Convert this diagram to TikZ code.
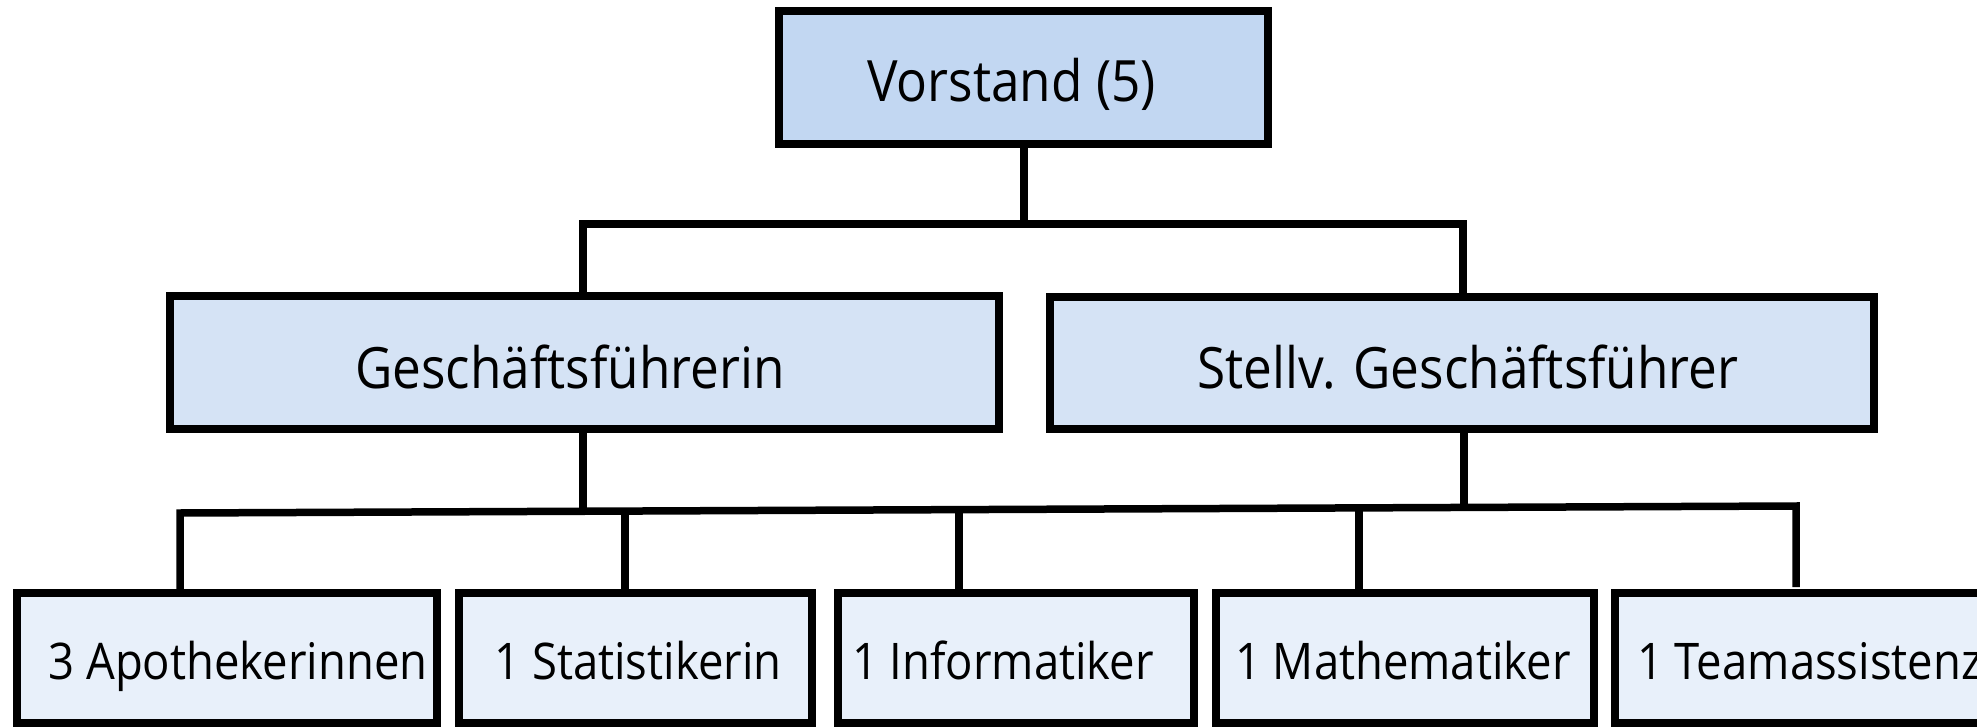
\documentclass[tikz,border=0pt]{standalone}
\usepackage{fontspec}
\setmainfont[FakeStretch=0.9]{Open Sans}
\usetikzlibrary{calc}
\definecolor{topfill}{RGB}{194,215,242}
\definecolor{midfill}{RGB}{213,227,245}
\definecolor{botfill}{RGB}{232,240,250}
\tikzset{
  box/.style={draw=black, line width=8pt, inner sep=0pt, outer sep=0pt, rectangle},
  conn/.style={draw=black, line width=7.5pt, line join=miter},
  bigtext/.style={anchor=base, inner sep=0pt, font=\fontsize{57}{62}\selectfont},
  smalltext/.style={anchor=base, inner sep=0pt, font=\fontsize{50.5}{55}\selectfont},
}
\begin{document}
\begin{tikzpicture}[x=1pt,y=-1pt]
\useasboundingbox (0,0) rectangle (1977,727);
\clip (0,0) rectangle (1977,727);
\fill[white] (0,0) rectangle (1977,727);
% boxes
\node[box, fill=topfill, minimum width=489pt, minimum height=133pt] (vorstand) at (1023.5,77.5) {};
\node[box, fill=midfill, minimum width=829pt, minimum height=133pt] (gf) at (584.5,362.5) {};
\node[box, fill=midfill, minimum width=824pt, minimum height=132pt] (st) at (1462,363) {};
\node[box, fill=botfill, minimum width=420pt, minimum height=130pt] (b1) at (227,658) {};
\node[box, fill=botfill, minimum width=353pt, minimum height=130pt] (b2) at (635.5,658) {};
\node[box, fill=botfill, minimum width=356pt, minimum height=130pt] (b3) at (1016,658) {};
\node[box, fill=botfill, minimum width=378pt, minimum height=130pt] (b4) at (1405,658) {};
\node[box, fill=botfill, minimum width=485pt, minimum height=130pt] (b5) at (1857.5,658) {};
% texts
\node[bigtext] (tv) at (1011.5,102) {Vorstand (5)};
\node[bigtext] (tgf) at (570,388) {Geschäftsführerin};
\node[bigtext] (tst) at (1468,388) {Stellv. Geschäftsführer};
\node[smalltext] (t1) at (238,679) {3 Apothekerinnen};
\node[smalltext] (t2) at (638,679) {1 Statistikerin};
\node[smalltext] (t3) at (1003,679) {1 Informatiker};
\node[smalltext] (t4) at (1403,679) {1 Mathematiker};
\node[smalltext, anchor=base west] (t5) at (1637,679) {1 Teamassistenz};
% upper connectors
\coordinate (busA) at (1024,224);
\coordinate (aL) at (583,224);
\coordinate (aR) at (1463,224);
\draw[conn] (vorstand.south -| busA) -- (busA);
\draw[conn] (aL |- gf.north) -- (aL) -- (aR) -- (aR |- st.north);
% lower bus (slightly slanted)
\coordinate (busL) at (180,513);
\coordinate (busR) at (1796,506);
\coordinate (pgf) at ($(busL)!0.2494!(busR)$);
\coordinate (pst) at ($(busL)!0.7946!(busR)$);
\coordinate (p2) at ($(busL)!0.2754!(busR)$);
\coordinate (p3) at ($(busL)!0.4821!(busR)$);
\coordinate (p4) at ($(busL)!0.7296!(busR)$);
\coordinate (end5) at (1796,587);
\draw[conn] (pgf |- gf.south) -- (pgf);
\draw[conn] (pst |- st.south) -- (pst);
\draw[conn] (busL |- b1.north) -- (busL) -- (busR) -- (end5);
\draw[conn] (p2) -- (p2 |- b2.north);
\draw[conn] (p3) -- (p3 |- b3.north);
\draw[conn] (p4) -- (p4 |- b4.north);
\end{tikzpicture}
\end{document}
